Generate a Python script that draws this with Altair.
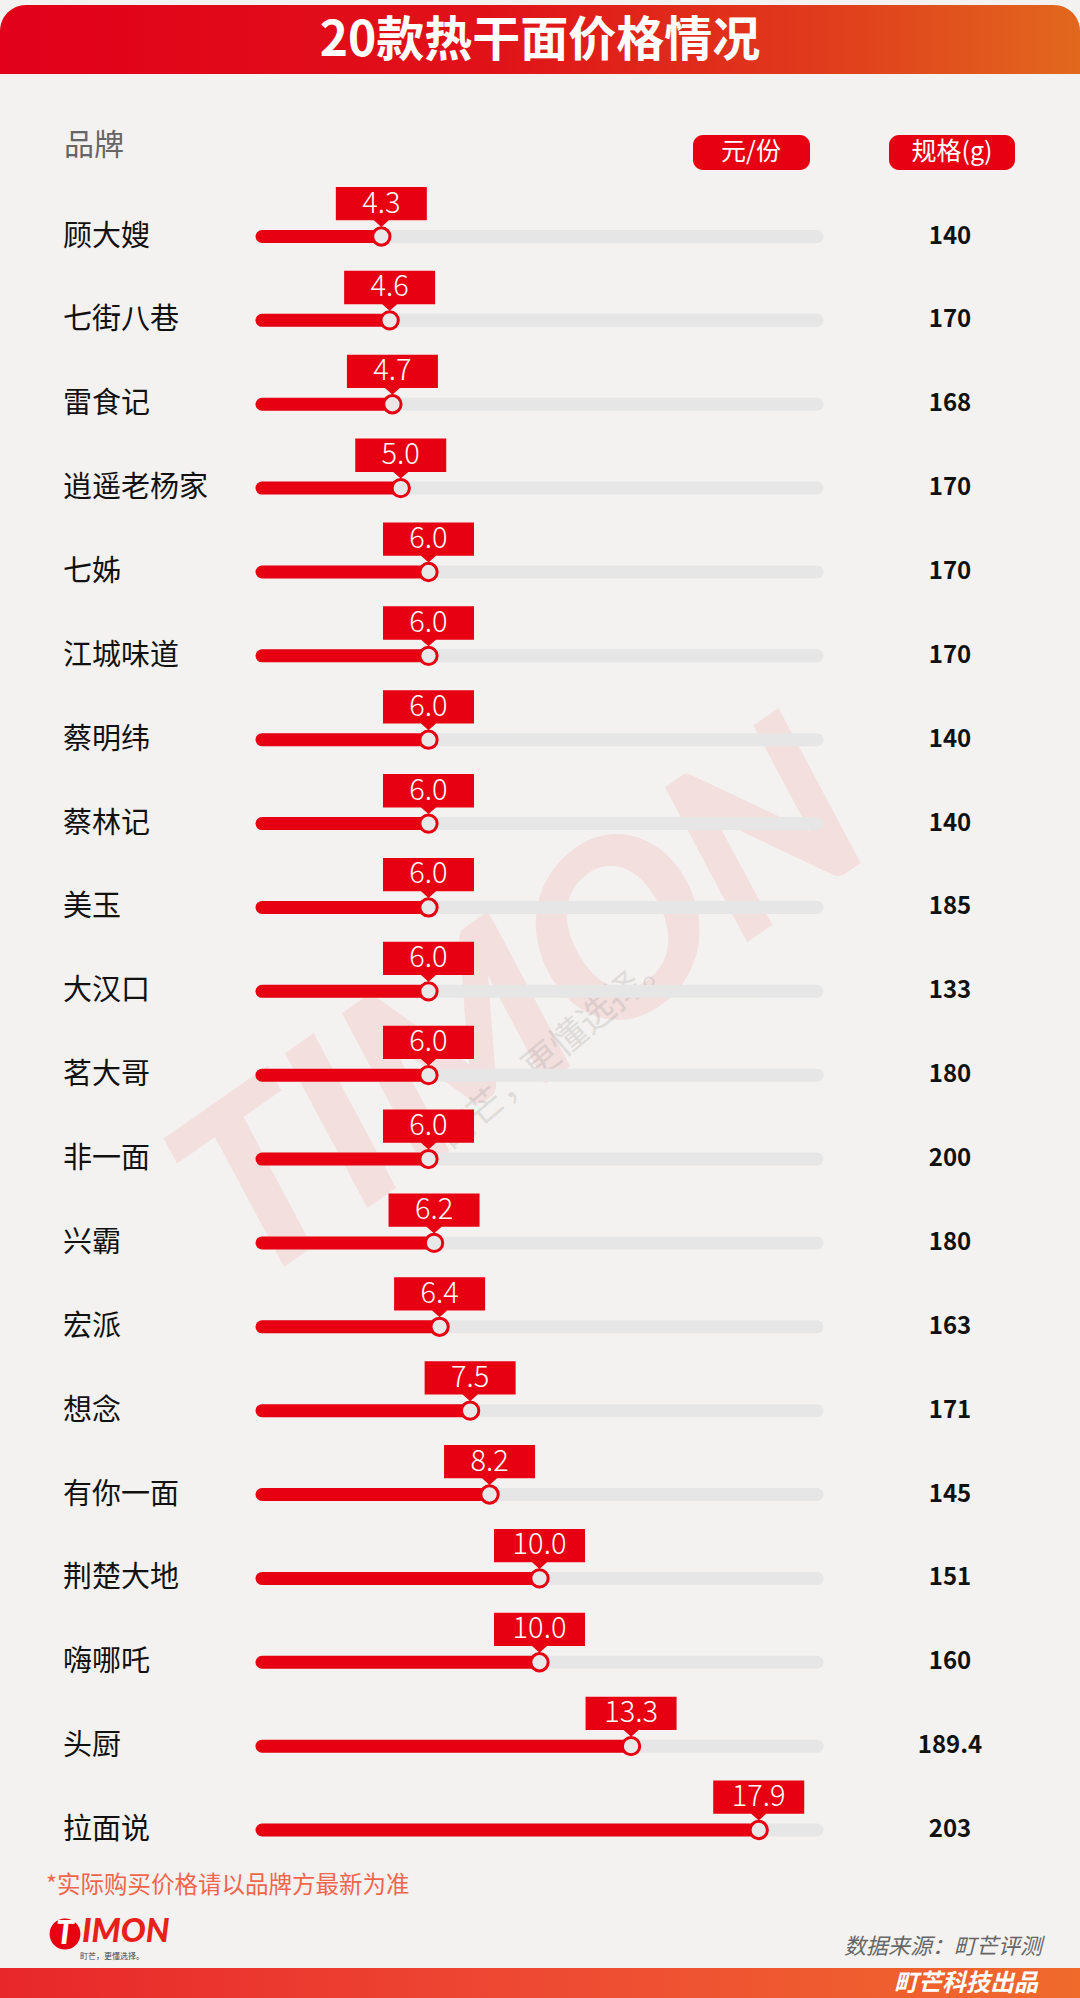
import altair as alt
import pandas as pd

brands = ["顾大嫂", "七街八巷", "雷食记", "逍遥老杨家", "七姊", "江城味道", "蔡明纬", "蔡林记",
          "美玉", "大汉口", "茗大哥", "非一面", "兴霸", "宏派", "想念", "有你一面",
          "荆楚大地", "嗨哪吒", "头厨", "拉面说"]
prices = [4.3, 4.6, 4.7, 5.0, 6.0, 6.0, 6.0, 6.0, 6.0, 6.0, 6.0, 6.0, 6.2, 6.4, 7.5, 8.2,
          10.0, 10.0, 13.3, 17.9]
specs = ["140", "170", "168", "170", "170", "170", "140", "140", "185", "133", "180", "200",
         "180", "163", "171", "145", "151", "160", "189.4", "203"]

title = "20款热干面价格情况"
header_brand = "品牌"
header_price = "元/份"
header_spec = "规格(g)"
footnote = "*实际购买价格请以品牌方最新为准"
source = "数据来源：町芒评测"
producer = "町芒科技出品"
slogan = "町芒，更懂选择。"
logo_first = "T"
logo_rest = "IMON"
logo = "TIMON"

W, H = 1080, 1998
RED = "#e60012"
FONT = "Noto Sans CJK SC"

df = pd.DataFrame({"brand": brands, "price": prices, "spec": specs, "i": list(range(len(brands)))})
one = pd.DataFrame({"k": [0]})

xs = alt.Scale(domain=[0, 20], range=[262, 817])
ys = alt.Scale(domain=[0, 19], range=[236.5, 1830])
X = alt.X("price:Q", scale=xs, axis=None)
Y = alt.Y("i:Q", scale=ys, axis=None)

base = alt.Chart(df)
deco = alt.Chart(one)

def grad(stops):
    return alt.Gradient(gradient="linear", x1=0, x2=1, y1=0, y2=0,
                        stops=[alt.GradientStop(color=c, offset=o) for o, c in stops])

# title banner
banner = deco.mark_rect(
    cornerRadiusTopLeft=26, cornerRadiusTopRight=26,
    color=grad([(0, "#e2001a"), (0.45, "#e01218"), (0.75, "#e03a1c"), (1, "#e2681e")])
).encode(x=alt.value(0), x2=alt.value(W), y=alt.value(5), y2=alt.value(74))

title_t = deco.mark_text(text=title, font=FONT, fontSize=48, fontWeight="bold",
                         color="white", align="center", baseline="middle").encode(
    x=alt.value(540), y=alt.value(42))

# watermark
wm = deco.mark_text(text=logo, font="Lato", fontSize=240, fontWeight=900, fontStyle="italic",
                    color=RED, opacity=0.075, angle=325, align="center", baseline="middle").encode(
    x=alt.value(525), y=alt.value(1010))
wm2 = deco.mark_text(text=slogan, font=FONT, fontSize=36, color="#888888", opacity=0.2,
                     angle=320, align="center", baseline="middle").encode(
    x=alt.value(556), y=alt.value(1050))

# headers
h_brand = deco.mark_text(text=header_brand, font=FONT, fontSize=30, color="#666666",
                         align="left", baseline="middle").encode(x=alt.value(64), y=alt.value(146))
pill1 = deco.mark_rect(color=RED, cornerRadius=10).encode(
    x=alt.value(693), x2=alt.value(810), y=alt.value(135), y2=alt.value(170))
pill1_t = deco.mark_text(text=header_price, font=FONT, fontSize=25, color="white",
                         align="center", baseline="middle").encode(x=alt.value(751), y=alt.value(152))
pill2 = deco.mark_rect(color=RED, cornerRadius=10).encode(
    x=alt.value(889), x2=alt.value(1015), y=alt.value(135), y2=alt.value(170))
pill2_t = deco.mark_text(text=header_spec, font=FONT, fontSize=25, color="white",
                         align="center", baseline="middle").encode(x=alt.value(952), y=alt.value(152))

# rows
names = base.mark_text(font=FONT, fontSize=29, color="#111111", align="left",
                       baseline="middle").encode(x=alt.value(63), y=Y, text="brand:N")
rowbase = base.transform_calculate(lo="0", hi="20")
track = rowbase.mark_rule(color="#e6e6e6", strokeWidth=13, strokeCap="round").encode(
    x=alt.X("lo:Q", scale=xs, axis=None), x2="hi:Q", y=Y)
bar = rowbase.mark_rule(color=RED, strokeWidth=13, strokeCap="round").encode(
    x=alt.X("lo:Q", scale=xs, axis=None), x2="price:Q", y=Y)

LABEL_PATH = ("M-4.55,-4.95 L4.55,-4.95 L4.55,-1.62 L0.75,-1.62 L0,-0.95 "
              "L-0.75,-1.62 L-4.55,-1.62 Z")
box = base.mark_point(shape=LABEL_PATH, size=400, filled=True, color=RED, opacity=1,
                      strokeWidth=0).encode(x=X, y=Y)
dot = base.mark_point(shape="circle", size=300, filled=False, fill="#e8e8e8",
                      stroke=RED, strokeWidth=3, opacity=1).encode(x=X, y=Y)
val = base.mark_text(font=FONT, fontSize=29, fontWeight=300, color="white", align="center",
                     baseline="middle", dy=-33).encode(
    x=X, y=Y, text=alt.Text("price:Q", format=".1f"))
spec_t = base.mark_text(font=FONT, fontSize=24, fontWeight="bold", color="#111111",
                        align="center", baseline="middle").encode(
    x=alt.value(950), y=Y, text="spec:N")

# footer
foot = deco.mark_text(text=footnote, font=FONT, fontSize=23.5, color="#f2654c",
                      align="left", baseline="middle").encode(x=alt.value(46), y=alt.value(1886))
logo_c = deco.mark_circle(color=RED, size=950, opacity=1).encode(
    x=alt.value(65), y=alt.value(1934))
logo_t1 = deco.mark_text(text=logo_first, font="Lato", fontSize=32, fontWeight=900, fontStyle="italic",
                         color="white", align="center", baseline="middle").encode(
    x=alt.value(65), y=alt.value(1934))
logo_t2 = deco.mark_text(text=logo_rest, font="Lato", fontSize=33, fontWeight=900, fontStyle="italic",
                         color="#e8201a", align="left", baseline="middle").encode(
    x=alt.value(82), y=alt.value(1932))
logo_s = deco.mark_text(text=slogan, font=FONT, fontSize=8, color="#444444",
                        align="left", baseline="middle").encode(x=alt.value(80), y=alt.value(1957))
src = deco.mark_text(text=source, font=FONT, fontSize=22, fontStyle="italic", color="#666666",
                     align="right", baseline="middle").encode(x=alt.value(1042), y=alt.value(1947))
band = deco.mark_rect(color=grad([(0, "#e8272a"), (0.5, "#ee4a33"), (1, "#f06a2c")])).encode(
    x=alt.value(0), x2=alt.value(W), y=alt.value(1968), y2=alt.value(H))
band_t = deco.mark_text(text=producer, font=FONT, fontSize=24, fontWeight="bold",
                        fontStyle="italic", color="white", align="right", baseline="middle").encode(
    x=alt.value(1038), y=alt.value(1984))

chart = alt.layer(
    banner, title_t, wm, wm2,
    h_brand, pill1, pill1_t, pill2, pill2_t,
    track, bar, box, dot, val, names, spec_t,
    foot, logo_c, logo_t1, logo_t2, logo_s, src, band, band_t
).properties(
    width=W, height=H, background="#f4f2f0", padding=0,
    autosize=alt.AutoSizeParams(type="none")
).configure_view(stroke=None)

chart.save("out.html", embed_options={"renderer": "svg", "actions": False})
